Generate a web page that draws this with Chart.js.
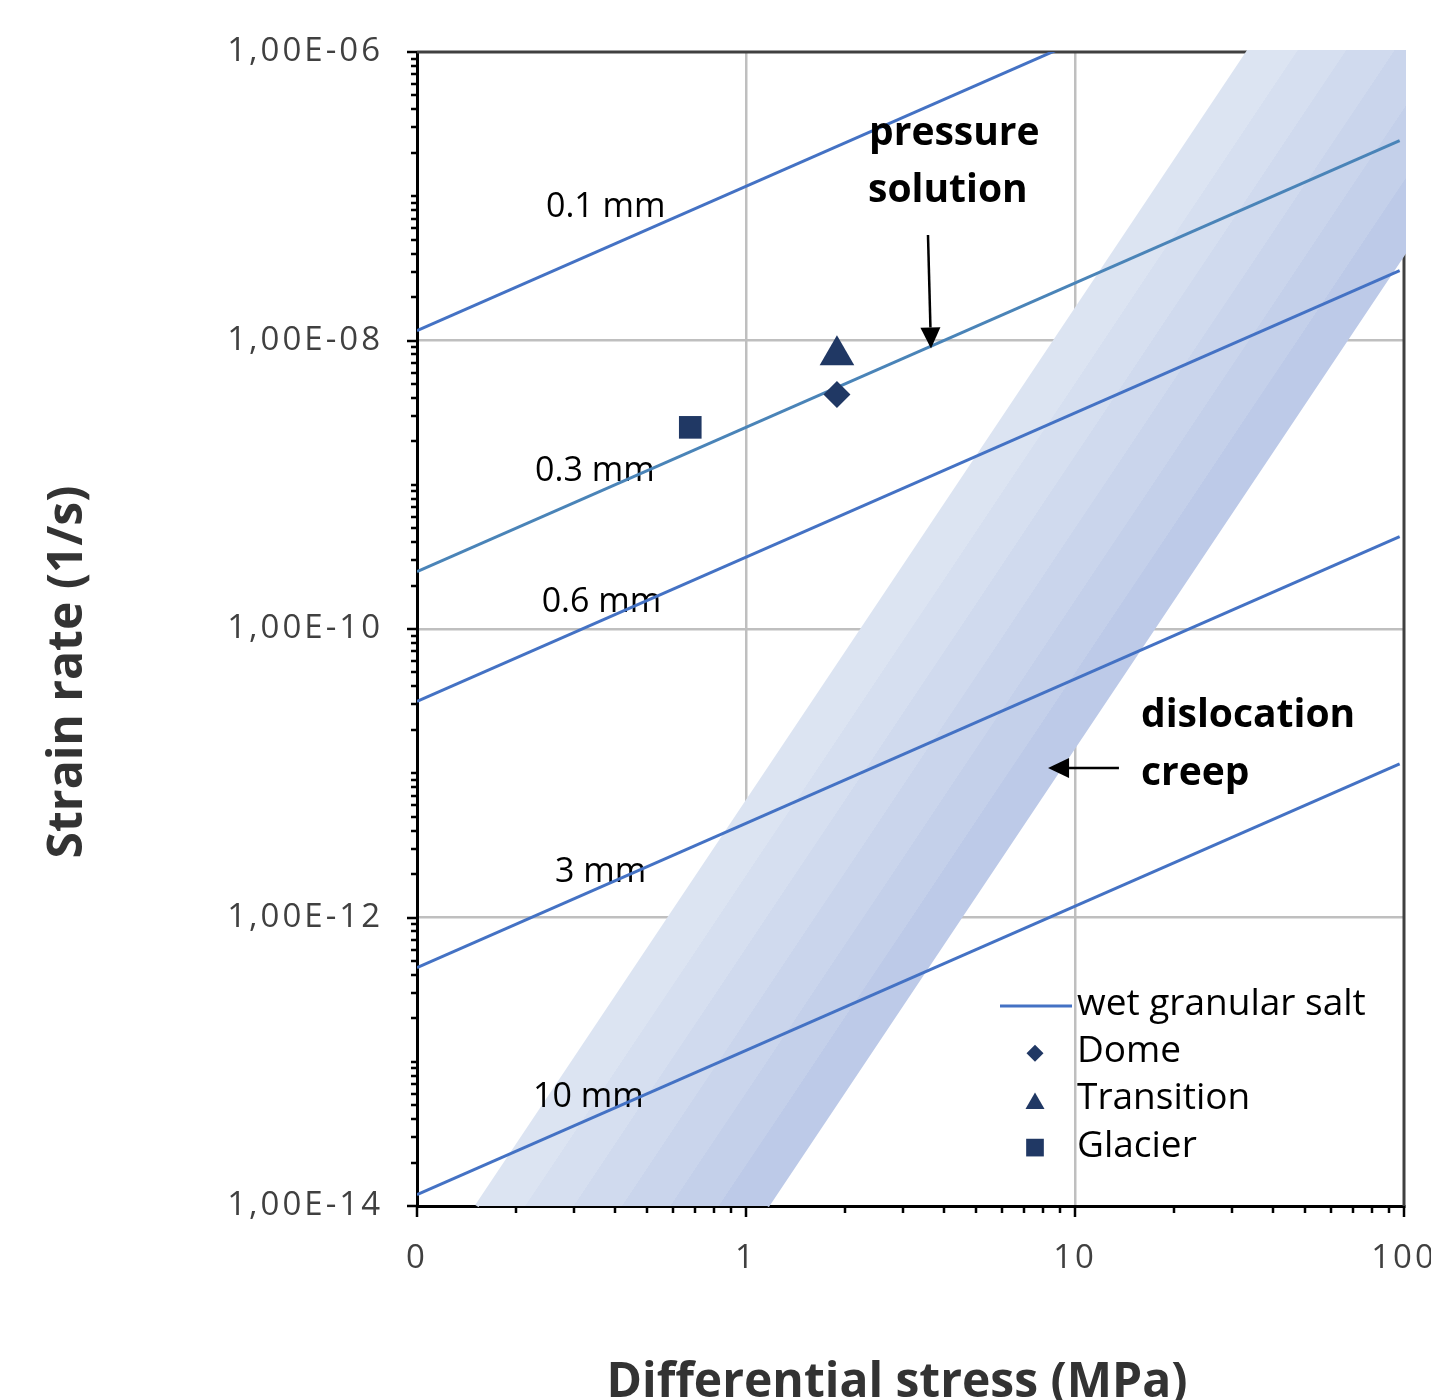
<!DOCTYPE html>
<html>
<head>
<meta charset="utf-8">
<script src="https://cdn.jsdelivr.net/npm/chart.js@4.4.1/dist/chart.umd.min.js"></script>
<style>
html,body{margin:0;padding:0;background:#fff;}
#wrap{width:1431px;height:1400px;position:relative;}
</style>
</head>
<body>
<div id="wrap"><canvas id="c" width="1431" height="1400"></canvas></div>
<script>
// ---------------- data ----------------
const grainSizes = ['0.1 mm', '0.3 mm', '0.6 mm', '3 mm', '10 mm'];
const lineStress = [0.1, 97];                 // MPa, end points of each grain-size line
const rate01 = [1.17e-8, 1.14e-5];
const rate03 = [2.5e-10, 2.43e-7];
const rate06 = [3.15e-11, 3.05e-8];
const rate3  = [4.5e-13, 4.37e-10];
const rate10 = [1.2e-14, 1.16e-11];

const bandStress = [0.152, 33.6, 100, 100, 1.16];      // dislocation creep field corners
const bandRate   = [1e-14, 1e-6, 1e-6, 4.05e-8, 1e-14];

const pointNames  = ['Dome', 'Transition', 'Glacier'];
const pointStress = [1.89, 1.89, 0.677];
const pointRate   = [4.23e-9, 7.9e-9, 2.5e-9];

const xTickValues = [0.1, 1, 10, 100];
const xTickLabels = ['0', '1', '10', '100'];
const yTickValues = [1e-14, 1e-12, 1e-10, 1e-8, 1e-6];
const yTickLabels = ['1,00E-14', '1,00E-12', '1,00E-10', '1,00E-08', '1,00E-06'];

const legendLabel = 'wet granular salt';

// ---------------- annotation layout (data coordinates) ----------------
const lineLabelAnchors = [[0.2466, 7.18e-8], [0.2284, 1.07e-9], [0.2393, 1.31e-10], [0.2627, 1.75e-12], [0.2252, 4.86e-14]];
const notes = [
  {text: 'pressure', x: 2.365, y: 2.27e-7},
  {text: 'solution', x: 2.349, y: 9.12e-8},
  {text: 'dislocation', x: 15.87, y: 2.094e-11},
  {text: 'creep', x: 15.87, y: 8.29e-12}
];
const arrowDefs = [
  {from: [3.574, 5.39e-8], to: [3.65, 8.8e-9]},
  {from: [13.6, 1.088e-11], to: [8.28, 1.088e-11]}
];

// ---------------- styles ----------------
const FONT = '"Open Sans", "Noto Sans", sans-serif';
const lineColor = '#4472C4';
const lineColor03 = '#4A84B8';
const markerColor = '#203864';
const markerStyles = ['rectRot', 'triangle', 'rect'];
const markerRadii = [13.5, 20, 16];
const stripeColors = ['#DCE4F2', '#D6DFF0', '#D0DAEE', '#CAD5EC', '#C4D0EA', '#BDCAE8'];

function bandGradient(context) {
  const chart = context.chart;
  const xs = chart.scales && chart.scales.x, ys = chart.scales && chart.scales.y;
  if (!chart.chartArea || !xs || !ys) return stripeColors[2];
  const p0 = {x: xs.getPixelForValue(bandStress[0]), y: ys.getPixelForValue(bandRate[0])};
  const p1 = {x: xs.getPixelForValue(bandStress[1]), y: ys.getPixelForValue(bandRate[1])};
  const p4 = {x: xs.getPixelForValue(bandStress[4]), y: ys.getPixelForValue(bandRate[4])};
  const dx = p1.x - p0.x, dy = p1.y - p0.y, L = Math.hypot(dx, dy) || 1;
  let nx = -dy / L, ny = dx / L;
  if ((p4.x - p0.x) * nx + (p4.y - p0.y) * ny < 0) { nx = -nx; ny = -ny; }
  const d = (p4.x - p0.x) * nx + (p4.y - p0.y) * ny;
  const g = chart.ctx.createLinearGradient(p0.x, p0.y, p0.x + nx * d, p0.y + ny * d);
  const n = stripeColors.length;
  stripeColors.forEach((c, i) => {
    g.addColorStop(i / n, c);
    g.addColorStop(Math.min(1, (i + 1) / n - 0.0005), c);
  });
  return g;
}

function drawMarker(ctx, style, x, y, r) {
  ctx.beginPath();
  if (style === 'rectRot') {
    ctx.moveTo(x, y - r); ctx.lineTo(x + r, y); ctx.lineTo(x, y + r); ctx.lineTo(x - r, y);
  } else if (style === 'triangle') {
    ctx.moveTo(x, y - r);
    ctx.lineTo(x + r * Math.sin(Math.PI * 2 / 3), y + r / 2);
    ctx.lineTo(x - r * Math.sin(Math.PI * 2 / 3), y + r / 2);
  } else {
    const s = r * Math.SQRT1_2;
    ctx.rect(x - s, y - s, 2 * s, 2 * s);
  }
  ctx.closePath();
  ctx.fill();
}

function drawArrow(ctx, x1, y1, x2, y2, headLen, headW) {
  const ang = Math.atan2(y2 - y1, x2 - x1);
  const bx = x2 - headLen * Math.cos(ang), by = y2 - headLen * Math.sin(ang);
  ctx.beginPath(); ctx.moveTo(x1, y1); ctx.lineTo(bx, by); ctx.stroke();
  ctx.beginPath();
  ctx.moveTo(x2, y2);
  ctx.lineTo(bx + headW / 2 * Math.sin(ang), by - headW / 2 * Math.cos(ang));
  ctx.lineTo(bx - headW / 2 * Math.sin(ang), by + headW / 2 * Math.cos(ang));
  ctx.closePath(); ctx.fill();
}

const lineSeries = [rate01, rate03, rate06, rate3, rate10];
const BAND_INDEX = 0;

const decor = {
  id: 'decor',
  beforeDraw(chart) { chart.ctx.letterSpacing = '3px'; },
  beforeDatasetsDraw(chart) {
    const ctx = chart.ctx, a = chart.chartArea;
    ctx.letterSpacing = '0px';
    ctx.save();
    ctx.strokeStyle = '#404040'; ctx.lineWidth = 3;
    ctx.beginPath(); ctx.moveTo(a.left, a.top); ctx.lineTo(a.right, a.top); ctx.lineTo(a.right, a.bottom); ctx.stroke();
    ctx.restore();
  },
  afterDatasetDraw(chart, args) {
    if (args.index !== BAND_INDEX) return;
    const ctx = chart.ctx, xs = chart.scales.x, ys = chart.scales.y;
    ctx.save();
    ctx.font = '34px ' + FONT; ctx.fillStyle = '#000'; ctx.textAlign = 'left'; ctx.textBaseline = 'alphabetic';
    grainSizes.forEach((t, i) => {
      ctx.fillText(t, xs.getPixelForValue(lineLabelAnchors[i][0]), ys.getPixelForValue(lineLabelAnchors[i][1]));
    });
    ctx.restore();
  },
  afterDatasetsDraw(chart) {
    const ctx = chart.ctx, a = chart.chartArea, xs = chart.scales.x, ys = chart.scales.y;
    ctx.save();
    // minor + major tick marks
    ctx.strokeStyle = '#000'; ctx.lineWidth = 2.5;
    ctx.beginPath();
    for (let e = -1; e <= 2; e++) {
      for (let k = 1; k <= 9; k++) {
        const v = k * Math.pow(10, e);
        if (v > 100.0001) break;
        const px = Math.round(xs.getPixelForValue(v));
        const len = k === 1 ? 11 : 7;
        ctx.moveTo(px, a.bottom); ctx.lineTo(px, a.bottom + len);
      }
    }
    for (let e = -14; e <= -6; e++) {
      for (let k = 1; k <= 9; k++) {
        const v = k * Math.pow(10, e);
        if (v > 1.0001e-6) break;
        const py = Math.round(ys.getPixelForValue(v));
        const len = (k === 1 && e % 2 === 0) ? 10 : 6;
        ctx.moveTo(a.left, py); ctx.lineTo(a.left - len, py);
      }
    }
    ctx.stroke();
    // bold annotations
    ctx.font = 'bold 39px ' + FONT; ctx.fillStyle = '#000'; ctx.textAlign = 'left'; ctx.textBaseline = 'alphabetic';
    notes.forEach(n => ctx.fillText(n.text, xs.getPixelForValue(n.x), ys.getPixelForValue(n.y)));
    // arrows
    ctx.strokeStyle = '#000'; ctx.fillStyle = '#000'; ctx.lineWidth = 2.5;
    arrowDefs.forEach(ar => drawArrow(ctx,
      xs.getPixelForValue(ar.from[0]), ys.getPixelForValue(ar.from[1]),
      xs.getPixelForValue(ar.to[0]), ys.getPixelForValue(ar.to[1]), 21, 20));
    ctx.restore();
  },
  afterDraw(chart) {
    const ctx = chart.ctx;
    ctx.save();
    // legend
    const lx = 1000, ly0 = 1015, dy = 47.2;
    ctx.strokeStyle = lineColor; ctx.lineWidth = 3;
    ctx.beginPath(); ctx.moveTo(lx, ly0 - 9); ctx.lineTo(lx + 72, ly0 - 9); ctx.stroke();
    ctx.font = '37px ' + FONT; ctx.fillStyle = '#000'; ctx.textAlign = 'left'; ctx.textBaseline = 'alphabetic';
    ctx.fillText(legendLabel, lx + 77, ly0);
    const legR = [8.5, 11, 12.5];
    const legOff = [-9, -6, -9];
    pointNames.forEach((n, i) => {
      const by = ly0 + dy * (i + 1);
      ctx.fillStyle = markerColor;
      drawMarker(ctx, markerStyles[i], lx + 35, by + legOff[i], legR[i]);
      ctx.fillStyle = '#000';
      ctx.fillText(n, lx + 77, by);
    });
    // axis titles
    ctx.font = 'bold 48px ' + FONT; ctx.fillStyle = '#333333'; ctx.textAlign = 'center';
    ctx.fillText('Differential stress (MPa)', 897, 1397);
    ctx.translate(82, 672);
    ctx.rotate(-Math.PI / 2);
    ctx.fillText('Strain rate (1/s)', 0, 0);
    ctx.restore();
  }
};

const datasets = [];
datasets.push({
  label: 'dislocation creep',
  data: bandStress.map((x, i) => ({x: x, y: bandRate[i]})),
  showLine: true, fill: 'shape',
  backgroundColor: bandGradient, borderColor: bandGradient, borderWidth: 4,
  pointRadius: 0, order: 10, clip: 3
});
lineSeries.forEach((r, i) => {
  datasets.push({
    label: grainSizes[i],
    data: lineStress.map((x, j) => ({x: x, y: r[j]})),
    showLine: true, fill: false,
    borderColor: i === 1 ? lineColor03 : lineColor, borderWidth: 3,
    pointRadius: 0, order: 5, clip: 0
  });
});
pointNames.forEach((n, i) => {
  datasets.push({
    label: n,
    data: [{x: pointStress[i], y: pointRate[i]}],
    showLine: false, fill: false,
    pointStyle: markerStyles[i], pointRadius: markerRadii[i],
    backgroundColor: markerColor, borderColor: markerColor, borderWidth: 0,
    order: 0, clip: false
  });
});

const gridColor = (vals) => (ctx) => {
  const v = ctx.tick && ctx.tick.value;
  if (v === vals[0] || v === vals[vals.length - 1]) return 'rgba(0,0,0,0)';
  return '#BFBFBF';
};

new Chart(document.getElementById('c'), {
  type: 'line',
  data: {datasets: datasets},
  options: {
    responsive: false,
    animation: false,
    events: [],
    devicePixelRatio: 1,
    layout: {padding: {top: 52, right: 27, bottom: 0, left: 0}},
    plugins: {legend: {display: false}, tooltip: {enabled: false}},
    elements: {line: {tension: 0}},
    scales: {
      x: {
        type: 'logarithmic', min: 0.1, max: 100,
        afterBuildTicks: s => { s.ticks = xTickValues.map(v => ({value: v})); },
        afterFit: s => { s.height = 194; s.paddingLeft = 0; s.paddingRight = 0; },
        grid: {color: gridColor(xTickValues), lineWidth: 2.5, drawTicks: false},
        border: {display: true, color: '#000', width: 3},
        ticks: {
          autoSkip: false, maxRotation: 0, padding: 33,
          color: '#404040', font: {family: FONT, size: 33},
          callback: (v, i) => xTickLabels[i]
        }
      },
      y: {
        type: 'logarithmic', min: 1e-14, max: 1e-6,
        afterBuildTicks: s => { s.ticks = yTickValues.map(v => ({value: v})); },
        afterFit: s => { s.width = 417; s.paddingTop = 0; s.paddingBottom = 0; },
        grid: {color: gridColor(yTickValues), lineWidth: 2.5, drawTicks: false},
        border: {display: true, color: '#000', width: 3},
        ticks: {
          autoSkip: false, padding: 34,
          color: '#404040', font: {family: FONT, size: 33},
          callback: (v, i) => yTickLabels[i]
        }
      }
    }
  },
  plugins: [decor]
});
</script>
</body>
</html>
